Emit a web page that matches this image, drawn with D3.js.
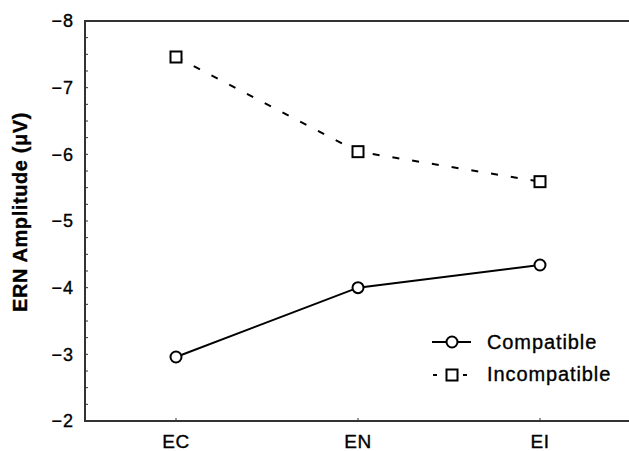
<!DOCTYPE html>
<html><head><meta charset="utf-8">
<script src="https://cdn.jsdelivr.net/npm/d3@7/dist/d3.min.js"></script>
<style>body{margin:0;background:#fff}svg{display:block}text{stroke:#000;stroke-width:0.35px}</style>
</head><body>
<script>
const categories = ["EC", "EN", "EI"];
const compatible = [-2.96, -4.0, -4.34];
const incompatible = [-7.46, -6.04, -5.59];
const yTicks = [-8, -7, -6, -5, -4, -3, -2];
const seriesNames = ["Compatible", "Incompatible"];

const W = 629, H = 451;
const m = {left: 85, top: 21, right: -2, bottom: 30};
const svg = d3.select("body").append("svg").attr("width", W).attr("height", H);
const font = "Liberation Sans, Arial, sans-serif";

const x = d3.scaleBand().domain(categories).range([m.left, W - m.right]);
const y = d3.scaleLinear().domain([-2, -8]).range([H - m.bottom, m.top]);
const xc = d => x(d) + x.bandwidth() / 2;

const axisColor = "#333";
svg.append("line").attr("x1", m.left).attr("x2", m.left).attr("y1", y(-8)).attr("y2", y(-2))
  .attr("stroke", axisColor).attr("stroke-width", 2);
svg.append("line").attr("x1", m.left - 1).attr("x2", W).attr("y1", y(-8)).attr("y2", y(-8))
  .attr("stroke", axisColor).attr("stroke-width", 2);
svg.append("line").attr("x1", m.left - 1).attr("x2", W).attr("y1", y(-2)).attr("y2", y(-2))
  .attr("stroke", axisColor).attr("stroke-width", 2);

const minor = d3.range(-8, -2.001, 0.25);
svg.append("g").selectAll("line").data(minor).join("line")
  .attr("x1", m.left).attr("x2", m.left + 3)
  .attr("y1", d => y(d)).attr("y2", d => y(d))
  .attr("stroke", axisColor).attr("stroke-width", 1);

svg.append("g").selectAll("text").data(yTicks).join("text")
  .attr("x", m.left - 11).attr("y", d => y(d)).attr("dy", "0.36em")
  .attr("text-anchor", "end").attr("font-family", font).attr("font-size", 18)
  .attr("letter-spacing", 1)
  .attr("fill", "#000")
  .text(d => "\u2212" + Math.abs(d));

svg.append("g").selectAll("line").data(categories).join("line")
  .attr("x1", xc).attr("x2", xc).attr("y1", y(-2)).attr("y2", y(-2) - 3)
  .attr("stroke", axisColor).attr("stroke-width", 1);
svg.append("g").selectAll("text").data(categories).join("text")
  .attr("x", xc).attr("y", 448)
  .attr("text-anchor", "middle").attr("font-family", font).attr("font-size", 19)
  .attr("letter-spacing", 0.5)
  .text(d => d);

svg.append("text")
  .attr("transform", `translate(27,212) rotate(-90)`)
  .attr("text-anchor", "middle").attr("font-family", font).attr("font-size", 20)
  .attr("font-weight", "bold").attr("letter-spacing", 0.6)
  .text("ERN Amplitude (\u03BCV)");

const line = d3.line().x((d, i) => xc(categories[i])).y(d => y(d));

svg.append("path").datum(compatible).attr("d", line)
  .attr("fill", "none").attr("stroke", "#000").attr("stroke-width", 2);
svg.append("path").datum(incompatible).attr("d", line)
  .attr("fill", "none").attr("stroke", "#000").attr("stroke-width", 2)
  .attr("stroke-dasharray", "7,13");

svg.append("g").selectAll("circle").data(compatible).join("circle")
  .attr("cx", (d, i) => xc(categories[i])).attr("cy", d => y(d)).attr("r", 5.5)
  .attr("fill", "#fff").attr("stroke", "#000").attr("stroke-width", 2);
svg.append("g").selectAll("rect").data(incompatible).join("rect")
  .attr("x", (d, i) => xc(categories[i]) - 5.5).attr("y", d => y(d) - 5.5)
  .attr("width", 11).attr("height", 11)
  .attr("fill", "#fff").attr("stroke", "#000").attr("stroke-width", 2);

const lg = svg.append("g").attr("transform", "translate(432,342)");
lg.append("line").attr("x1", 0).attr("x2", 39).attr("y1", 0).attr("y2", 0)
  .attr("stroke", "#000").attr("stroke-width", 2);
lg.append("circle").attr("cx", 20).attr("cy", 0).attr("r", 5.5)
  .attr("fill", "#fff").attr("stroke", "#000").attr("stroke-width", 2);
lg.append("text").attr("x", 55).attr("y", 7)
  .attr("font-family", font).attr("font-size", 20).attr("letter-spacing", 0.9)
  .text(seriesNames[0]);
const lg2 = svg.append("g").attr("transform", "translate(432,375)");
lg2.append("line").attr("x1", 1).attr("x2", 5).attr("y1", 0).attr("y2", 0)
  .attr("stroke", "#000").attr("stroke-width", 2);
lg2.append("line").attr("x1", 31).attr("x2", 35).attr("y1", 0).attr("y2", 0)
  .attr("stroke", "#000").attr("stroke-width", 2);
lg2.append("rect").attr("x", 14.5).attr("y", -5.5).attr("width", 11).attr("height", 11)
  .attr("fill", "#fff").attr("stroke", "#000").attr("stroke-width", 2);
lg2.append("text").attr("x", 55).attr("y", 6)
  .attr("font-family", font).attr("font-size", 20).attr("letter-spacing", 0.9)
  .text(seriesNames[1]);
</script>
</body></html>
